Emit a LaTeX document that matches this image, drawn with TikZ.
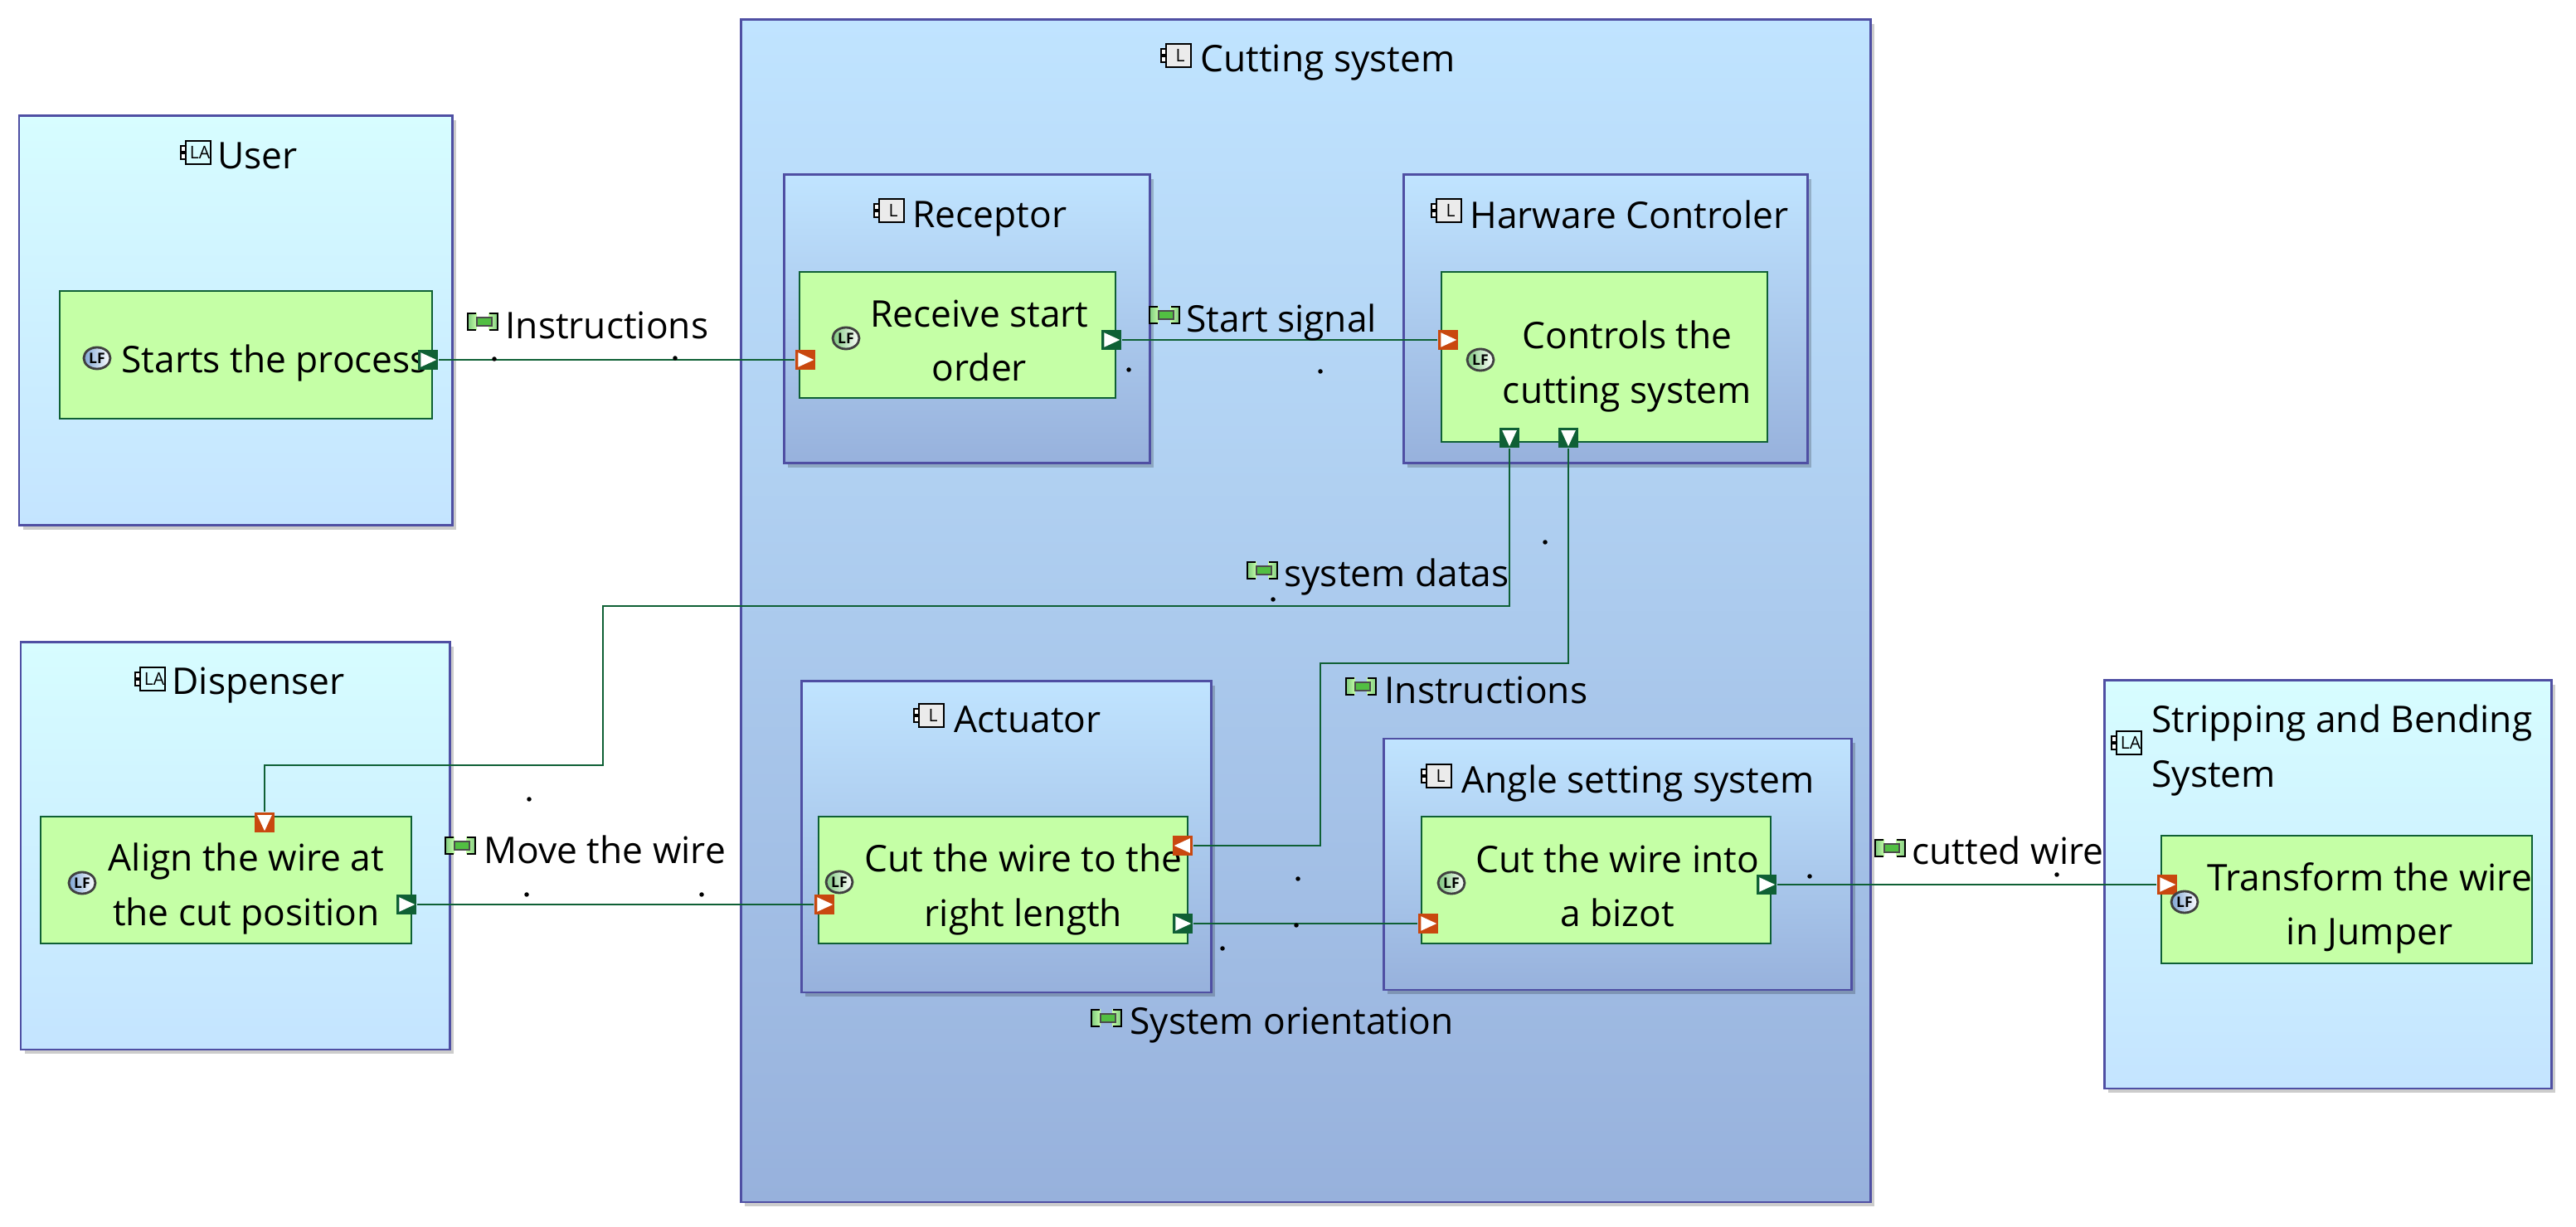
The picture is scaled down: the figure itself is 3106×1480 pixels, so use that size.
\documentclass[tikz,border=0pt]{standalone}
\usepackage{fontspec}
\setmainfont{Open Sans}
\usetikzlibrary{fit, shadows}
\definecolor{cframe}{HTML}{4F4FA3}
\definecolor{cfunc}{HTML}{C5FFA6}
\definecolor{clink}{HTML}{0F6035}
\definecolor{corange}{HTML}{C9480F}
\definecolor{cpale}{HTML}{D7FDFF}
\definecolor{cpalelow}{HTML}{C4E4FF}
\definecolor{csky}{HTML}{C0E4FF}
\definecolor{cskylow}{HTML}{97B1DC}
\definecolor{clfblue}{HTML}{7FA6D6}
\definecolor{clfgreen}{HTML}{7FC97F}
\definecolor{cbar}{HTML}{52BF42}
\tikzset{
  every picture/.style={line width=0.85pt},
  lablock/.style={draw=cframe, top color=cpale, bottom color=cpalelow, inner sep=0pt,
    drop shadow={shadow xshift=0.05cm, shadow yshift=-0.05cm, fill=black, opacity=.2}},
  lcblock/.style={draw=cframe, top color=csky, bottom color=cskylow, inner sep=0pt,
    drop shadow={shadow xshift=0.05cm, shadow yshift=-0.05cm, fill=black, opacity=.2}},
  func/.style={draw=clink, fill=cfunc, inner sep=0pt, line width=0.75pt},
  txt/.style={font=\fontsize{12.6}{18.5}\selectfont, inner sep=0pt, align=center},
  title/.style={txt, anchor=west, align=left},
  link/.style={draw=clink, line width=0.75pt},
  dot/.style={circle, fill=black, inner sep=0pt, minimum size=0.055cm},
  portbox/.style={fill=#1, inner sep=0pt, minimum size=0.235cm},
  portr/.style={portbox=#1, path picture={\fill[white]
    ([shift={(.03cm,-.03cm)}]path picture bounding box.north west) --
    ([shift={(.03cm,.03cm)}]path picture bounding box.south west) --
    ([shift={(-.015cm,0cm)}]path picture bounding box.east) -- cycle;}},
  portl/.style={portbox=#1, path picture={\fill[white]
    ([shift={(-.03cm,-.03cm)}]path picture bounding box.north east) --
    ([shift={(-.03cm,.03cm)}]path picture bounding box.south east) --
    ([shift={(.015cm,0cm)}]path picture bounding box.west) -- cycle;}},
  portd/.style={portbox=#1, path picture={\fill[white]
    ([shift={(.03cm,-.03cm)}]path picture bounding box.north west) --
    ([shift={(-.03cm,-.03cm)}]path picture bounding box.north east) --
    ([shift={(0cm,.015cm)}]path picture bounding box.south) -- cycle;}},
  pics/compicon/.style n args={2}{code={
    \draw[black, fill=#2, line width=0.6pt] (-15,-14) rectangle (15,14);
    \draw[black, fill=white, line width=0.6pt] (-21,-8) rectangle (-15,-1) (-21,1) rectangle (-15,8);
    \node[inner sep=0pt, font=\fontsize{6}{6}\selectfont] (lbl) at (2,0) {#1};
  }},
  pics/funcicon/.style={code={
    \draw[black!75, left color=#1, right color=white, line width=0.8pt] (0,0) ellipse (16 and 13);
    \node[inner sep=0pt, font=\fontsize{5}{5}\selectfont\bfseries] (lbl) at (0,0) {LF};
  }},
  pics/exchicon/.style={code={
    \fill[left color=clfgreen, right color=cfunc] (-18,-10) rectangle (-7,10);
    \fill[left color=cfunc, right color=clfgreen] (7,-10) rectangle (18,10);
    \draw[black, line width=0.7pt] (-8,-10) -- (-18,-10) -- (-18,10) -- (-8,10);
    \draw[black, line width=0.7pt] (8,-10) -- (18,-10) -- (18,10) -- (8,10);
    \draw[black!70, fill=cbar, line width=0.4pt] (-7,-5) rectangle (11,5);
  }},
}
\begin{document}
\begin{tikzpicture}[x=0.01cm, y=-0.01cm]
  \useasboundingbox (0,0) rectangle (3106,1480);
  % outer blocks
  \node[lablock, fit={(23,140) (545,634)}] (bUser) {};
  \node[lablock, fit={(25,775) (542,1266)}] (bDisp) {};
  \node[lablock, fit={(2537,821) (3076,1313)}] (bStrip) {};
  \node[lcblock, fit={(893,24) (2255,1450)}] (bCut) {};
  % inner blocks
  \node[lcblock, fit={(945,211) (1386,559)}] (bRecep) {};
  \node[lcblock, fit={(1692,211) (2179,559)}] (bHard) {};
  \node[lcblock, fit={(966,822) (1460,1197)}] (bActu) {};
  \node[lcblock, fit={(1668,891) (2232,1194)}] (bAngle) {};
  % functions
  \node[func, fit={(72,351) (521,505)}] (fStart) {};
  \node[func, fit={(964,328) (1345,480)}] (fRecv) {};
  \node[func, fit={(1738,328) (2131,533)}] (fCtrl) {};
  \node[func, fit={(49,985) (496,1138)}] (fAlign) {};
  \node[func, fit={(987,985) (1432,1138)}] (fLen) {};
  \node[func, fit={(1714,985) (2135,1138)}] (fBiz) {};
  \node[func, fit={(2606,1008) (3053,1162)}] (fJump) {};
  % block titles
  \pic (iUser) at (239,184) {compicon={LA}{cpale}};
  \node[title] (tUser) at (261,188) {User};
  \pic (iDisp) at (184,819) {compicon={LA}{cpale}};
  \node[title] (tDisp) at (206,827) {Dispenser};
  \pic (iStrip) at (2567,896) {compicon={LA}{cpale}};
  \node[title] (tStrip) at (2593,905) {Stripping and Bending\\System};
  \pic (iCut) at (1421,67) {compicon={L}{black!8}};
  \node[title] (tCut) at (1446,76) {Cutting system};
  \pic (iRecep) at (1075,254) {compicon={L}{black!8}};
  \node[title] (tRecep) at (1099,264) {Receptor};
  \pic (iHard) at (1747,254) {compicon={L}{black!8}};
  \node[title] (tHard) at (1771,259) {Harware Controler};
  \pic (iActu) at (1123,863) {compicon={L}{black!8}};
  \node[title] (tActu) at (1149,868) {Actuator};
  \pic (iAngle) at (1735,936) {compicon={L}{black!8}};
  \node[title] (tAngle) at (1761,945) {Angle setting system};
  % function texts
  \pic (iStart) at (117,432) {funcicon={clfblue}};
  \node[title] (tStart) at (145,438) {Starts the process};
  \pic (iRecv) at (1020,408) {funcicon={clfgreen}};
  \node[txt] (tRecv) at (1181,411) {Receive start\\order};
  \pic (iCtrl) at (1785,434) {funcicon={clfgreen}};
  \node[txt] (tCtrl) at (1962,442) {Controls the\\cutting system};
  \pic (iAlign) at (99,1065) {funcicon={clfblue}};
  \node[txt] (tAlign) at (297,1072) {Align the wire at\\the cut position};
  \pic (iLen) at (1012,1064) {funcicon={clfgreen}};
  \node[txt] (tLen) at (1234,1073) {Cut the wire to the\\right length};
  \pic (iBiz) at (1750,1065) {funcicon={clfgreen}};
  \node[txt] (tBiz) at (1950,1068) {Cut the wire into\\a bizot};
  \node[txt] (tJump) at (2857,1095) {Transform the wire\\in Jumper};
  % ports
  \node[portr=clink] (pStart) at (516,434) {};
  \node[portr=corange] (pRecvIn) at (971,434) {};
  \node[portr=clink] (pRecvOut) at (1340,410) {};
  \node[portr=corange] (pCtrlIn) at (1746,410) {};
  \node[portd=clink] (pCtrlA) at (1820,528) {};
  \node[portd=clink] (pCtrlB) at (1891,528) {};
  \node[portd=corange] (pAlignIn) at (319,992) {};
  \node[portr=clink] (pAlignOut) at (490,1091) {};
  \node[portr=corange] (pLenIn) at (994,1091) {};
  \node[portl=corange] (pLenCmd) at (1426,1020) {};
  \node[portr=clink] (pLenOut) at (1426,1114) {};
  \node[portr=corange] (pBizIn) at (1722,1114) {};
  \node[portr=clink] (pBizOut) at (2130,1067) {};
  \node[portr=corange] (pJumpIn) at (2613,1067) {};
  \pic (iJump) at (2634,1088) {funcicon={clfblue}};
  % connectors
  \coordinate (cDataA) at (727,731);
  \coordinate (cDataB) at (319,923);
  \coordinate (cCmdA) at (1592,800);
  \draw[link] (pStart) -- (pRecvIn);
  \draw[link] (pRecvOut) -- (pCtrlIn);
  \draw[link] (pCtrlA) |- (cDataA) |- (cDataB) -- (pAlignIn);
  \draw[link] (pCtrlB) |- (cCmdA) |- (pLenCmd);
  \draw[link] (pAlignOut) -- (pLenIn);
  \draw[link] (pLenOut) -- (pBizIn);
  \draw[link] (pBizOut) -- (pJumpIn);
  % exchange labels
  \pic (iInstr) at (582,388) {exchicon};
  \node[title] (tInstr) at (608,392) {Instructions};
  \pic (iSig) at (1404,380) {exchicon};
  \node[title] (tSig) at (1429,389) {Start signal};
  \pic (iData) at (1522,688) {exchicon};
  \node[title] (tData) at (1547,696) {system datas};
  \pic (iCmd) at (1641,828) {exchicon};
  \node[title] (tCmd) at (1668,832) {Instructions};
  \pic (iMove) at (555,1020) {exchicon};
  \node[title] (tMove) at (582,1025) {Move the wire};
  \pic (iWire) at (2279,1023) {exchicon};
  \node[title] (tWire) at (2304,1026) {cutted wire};
  \pic (iOrient) at (1334,1228) {exchicon};
  \node[title] (tOrient) at (1361,1237) {System orientation};
  % stray dots
  \foreach \x/\y [count=\i] in {596/433, 814/432, 1361/446, 1592/448, 1863/654, 1535/723, 638/964, 635/1079,
    846/1079, 1565/1060, 1563/1116, 1474/1144, 2182/1057, 2480/1055}
    \node[dot] (d\i) at (\x,\y) {};
\end{tikzpicture}
\end{document}
